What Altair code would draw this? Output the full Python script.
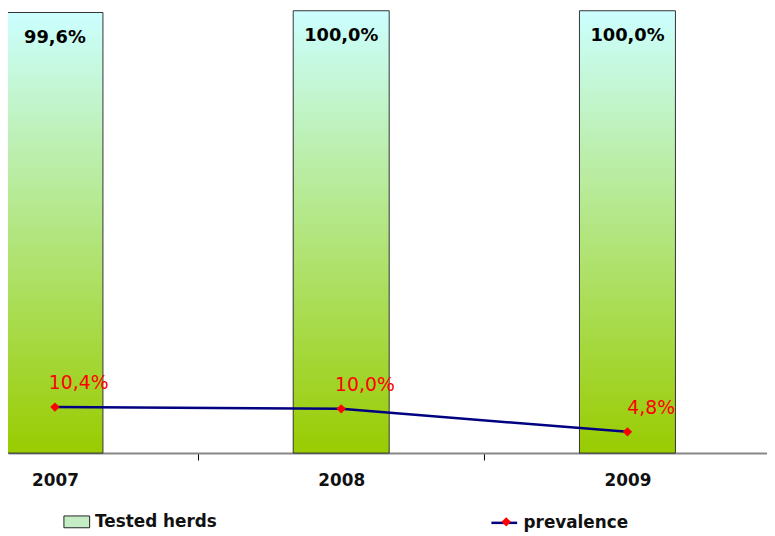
import altair as alt
import pandas as pd

years = [2007, 2008, 2009]
tested = [99.6, 100.0, 100.0]
prevalence = [10.4, 10.0, 4.8]
tested_labels = ["99,6%", "100,0%", "100,0%"]
prev_labels = ["10,4%", "10,0%", "4,8%"]

bars_df = pd.DataFrame({"year": years, "value": tested, "label": tested_labels,
                        "series": ["Tested herds"] * 3})
line_df = pd.DataFrame({"year": years, "value": prevalence, "label": prev_labels,
                        "series": ["prevalence"] * 3, "marker": ["marker"] * 3})

FONT = "DejaVu Sans"
HALF_STEP = 144.6

x_scale = alt.Scale(domain=[2006.836, 2009.4875], nice=False, zero=False, padding=0)
x_enc = alt.X(
    "year:Q",
    scale=x_scale,
    axis=alt.Axis(
        title=None, values=years, format="d", labelAngle=0,
        domain=True, domainColor="#888888", domainWidth=2,
        tickSize=7, tickColor="#000000", tickWidth=1,
        tickOffset=HALF_STEP, labelOffset=-HALF_STEP, labelPadding=13,
        grid=False, labelFlush=False,
        labelFont=FONT, labelFontSize=17, labelFontWeight="bold", labelColor="#111111",
    ),
)
y_scale = alt.Scale(domain=[0, 100], nice=False)
y_enc = alt.Y("value:Q", scale=y_scale, axis=None)

gradient = alt.LinearGradient(
    gradient="linear",
    stops=[alt.GradientStop(color="#CCFFFF", offset=0), alt.GradientStop(color="#99CC00", offset=1)],
    x1=0, x2=0, y1=0, y2=1,
)

bars = alt.Chart(bars_df).mark_bar(
    color=gradient, stroke="#333333", strokeWidth=1, width=97
).encode(x=x_enc, y=y_enc)

bar_text = alt.Chart(bars_df).mark_text(
    font=FONT, fontSize=18, fontWeight="bold", color="#000000", baseline="middle", dy=26
).encode(x=alt.X("year:Q"), y=y_enc, text="label:N")

legend_bar = alt.Chart(bars_df).transform_filter("datum.value < 0").mark_bar().encode(
    x=alt.X("year:Q"), y=y_enc,
    color=alt.Color(
        "series:N",
        scale=alt.Scale(domain=["Tested herds"], range=["#c4edc6"]),
        legend=alt.Legend(
            title=None, orient="none", legendX=56, legendY=503,
            symbolType="M-1,-0.46H1V0.46H-1Z", symbolSize=676,
            symbolStrokeColor="#222222", symbolStrokeWidth=1,
            labelFont=FONT, labelFontSize=17, labelFontWeight="bold", labelColor="#111111",
            labelOffset=5, padding=0,
        ),
    ),
)

line = alt.Chart(line_df).mark_line(strokeWidth=2.5).encode(
    x=alt.X("year:Q"), y=y_enc,
    stroke=alt.Stroke(
        "series:N",
        scale=alt.Scale(domain=["prevalence"], range=["#000080"]),
        legend=alt.Legend(
            title=None, orient="none", legendX=487, legendY=503,
            symbolType="stroke", symbolSize=676, symbolStrokeWidth=2.5,
            labelFont=FONT, labelFontSize=17, labelFontWeight="bold", labelColor="#111111",
            labelOffset=5, padding=0,
        ),
    ),
)

points = alt.Chart(line_df).mark_point(filled=True, color="#FF0000", size=90, opacity=1).encode(
    x=alt.X("year:Q"), y=y_enc,
    shape=alt.Shape(
        "marker:N",
        scale=alt.Scale(domain=["marker"], range=["diamond"]),
        legend=alt.Legend(
            title=None, orient="none", legendX=495, legendY=508,
            symbolSize=90, symbolFillColor="#FF0000", symbolStrokeColor="#FF0000",
            labelExpr="''", labelFontSize=17, padding=0,
        ),
    ),
)

prev_text = alt.Chart(line_df).mark_text(
    font=FONT, fontSize=19, color="#FF0000", baseline="middle", dx=24, dy=-24
).encode(x=alt.X("year:Q"), y=y_enc, text="label:N")

chart = alt.layer(bars, bar_text, legend_bar, line, points, prev_text).properties(
    width=767, height=447,
    autosize=alt.AutoSizeParams(type="none"),
    padding={"left": 0, "top": 0, "right": 0, "bottom": 79},
).configure_view(stroke=None)

chart.save("out.html", embed_options={"renderer": "svg", "actions": False})
